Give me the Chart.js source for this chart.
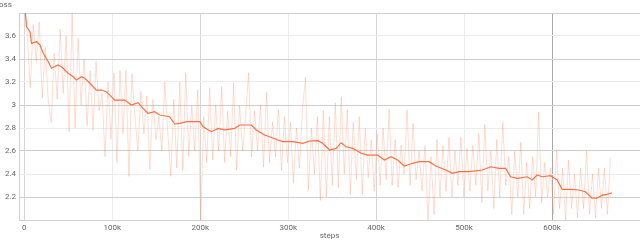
<!DOCTYPE html>
<html>
<head>
<meta charset="utf-8">
<script src="https://cdn.jsdelivr.net/npm/chart.js@4/dist/chart.umd.min.js"></script>
<style>
  html, body { margin: 0; padding: 0; background: #fff; }
  #wrap { width: 640px; height: 241px; position: relative; }
</style>
</head>
<body>
<div id="wrap"><canvas id="lossChart"></canvas></div>
<script>
// smoothed loss curve (step, loss)
const smoothSteps = [0, 1000, 2600, 6500, 8300, 13900, 17800, 21500, 27200, 31000, 38500, 42300, 49900, 55600, 59300, 65000, 68800, 74500, 82000, 87600, 93300, 102800, 114200, 121700, 129300, 134900, 140600, 148200, 153900, 165200, 170900, 176900, 184500, 199500, 203300, 212800, 220300, 227900, 239200, 244900, 258200, 263800, 273200, 278900, 288300, 294000, 305300, 316700, 324300, 333700, 339300, 346900, 354500, 360200, 365900, 373400, 382900, 390400, 401700, 409300, 416900, 424400, 432000, 441400, 449000, 460300, 467900, 479200, 486700, 494300, 505700, 520700, 530300, 539700, 547300, 552900, 560400, 571800, 577400, 583100, 588800, 598300, 605800, 611500, 621000, 630400, 638000, 645500, 651100, 656800, 662500, 668100];
const smoothLoss = [3.92, 3.82, 3.68, 3.637, 3.536, 3.55, 3.522, 3.45, 3.376, 3.319, 3.348, 3.333, 3.276, 3.246, 3.217, 3.246, 3.232, 3.189, 3.13, 3.13, 3.116, 3.043, 3.043, 3.0, 3.02, 2.971, 2.928, 2.942, 2.913, 2.898, 2.835, 2.841, 2.855, 2.855, 2.811, 2.768, 2.797, 2.783, 2.797, 2.826, 2.826, 2.783, 2.739, 2.724, 2.696, 2.681, 2.681, 2.667, 2.687, 2.69, 2.667, 2.609, 2.623, 2.672, 2.637, 2.623, 2.58, 2.565, 2.565, 2.522, 2.55, 2.522, 2.469, 2.493, 2.507, 2.507, 2.469, 2.435, 2.406, 2.42, 2.42, 2.435, 2.463, 2.449, 2.449, 2.376, 2.362, 2.376, 2.348, 2.391, 2.376, 2.385, 2.348, 2.267, 2.267, 2.261, 2.246, 2.189, 2.189, 2.217, 2.223, 2.237];

// raw (unsmoothed) loss, one reading every 3400 steps
const rawInterval = 3400;
const rawLoss = [
  3.95, 3.62, 3.15, 3.7, 3.38, 3.72, 3.06, 3.5, 3.05, 2.85,
  3.45, 3.05, 3.66, 3.1, 3.6, 2.77, 3.8, 2.8, 3.58, 3.0,
  3.4, 2.82, 3.3, 2.78, 3.38, 2.95, 3.1, 2.55, 3.2, 2.7,
  3.28, 2.5, 3.3, 2.75, 3.3, 2.38, 3.27, 2.9, 2.6, 3.12,
  2.75, 3.08, 2.44, 3.05, 2.7, 2.9, 2.6, 3.2, 2.75, 2.38,
  3.05, 2.45, 3.2, 2.43, 3.28, 2.55, 3.0, 2.6, 3.13, 1.98,
  2.9, 2.5, 3.15, 2.52, 3.0, 2.6, 3.16, 2.5, 2.95, 2.55,
  3.19, 2.43, 3.0, 2.6, 2.9, 3.28, 2.55, 2.95, 2.6, 3.0,
  2.46, 3.11, 2.5, 2.85, 2.55, 2.96, 2.43, 2.9, 2.5, 2.85,
  2.32, 2.8, 2.45, 2.95, 3.24, 2.26, 2.8, 2.4, 2.9, 2.17,
  2.95, 2.2, 2.9, 2.3, 3.02, 2.28, 3.07, 2.4, 2.96, 2.22,
  2.85, 2.35, 2.9, 2.22, 2.8, 2.37, 2.7, 2.25, 2.75, 2.3,
  2.8, 2.35, 2.96, 2.3, 2.7, 2.28, 2.65, 2.4, 2.96, 2.3,
  2.84, 2.35, 2.6, 2.25, 2.65, 2.0, 2.55, 2.05, 2.7, 2.2,
  2.65, 2.25, 2.72, 2.2, 2.6, 2.3, 2.72, 2.2, 2.62, 2.25,
  2.65, 2.3, 2.75, 2.15, 2.83, 2.25, 2.6, 2.1, 2.7, 2.2,
  2.85, 2.3, 2.55, 2.05, 2.6, 2.2, 2.68, 2.05, 2.5, 2.1,
  2.55, 2.2, 2.94, 2.15, 2.5, 2.2, 2.45, 2.05, 2.61, 2.1,
  2.45, 2.0, 2.52, 2.1, 2.4, 2.02, 2.45, 2.1, 2.6, 2.05,
  2.4, 2.02, 2.45, 2.1, 2.45, 2.05, 2.54
];

const xTicks = [0, 100000, 200000, 300000, 400000, 500000, 600000];
const yTicks = [2.2, 2.4, 2.6, 2.8, 3, 3.2, 3.4, 3.6];

const rawPoints = rawLoss.map((v, i) => ({ x: i * rawInterval, y: v }));
const smoothPoints = smoothSteps.map((s, i) => ({ x: s, y: smoothLoss[i] }));

// small "loss" label in the top left corner
const cornerTitle = {
  id: 'cornerTitle',
  afterDraw(chart) {
    const ctx = chart.ctx;
    ctx.save();
    ctx.font = '8px Roboto';
    ctx.fillStyle = '#666';
    ctx.textBaseline = 'middle';
    ctx.fillText('loss', -3, 5);
    ctx.restore();
  }
};

const chart = new Chart(document.getElementById('lossChart'), {
  type: 'line',
  data: {
    datasets: [
      {
        label: 'loss (raw)',
        data: rawPoints,
        borderColor: 'rgba(255, 112, 67, 0.24)',
        borderWidth: 1,
        pointRadius: 0,
        tension: 0
      },
      {
        label: 'loss',
        data: smoothPoints,
        borderColor: '#ff6f43',
        borderWidth: 1.2,
        pointRadius: 0,
        tension: 0
      }
    ]
  },
  options: {
    responsive: true,
    maintainAspectRatio: false,
    animation: false,
    layout: { padding: { top: 13, right: 0, left: 0, bottom: 0 } },
    plugins: {
      legend: { display: false },
      tooltip: { enabled: false }
    },
    scales: {
      x: {
        type: 'linear',
        min: -6000,
        max: 700000,
        afterBuildTicks: function(scale) {
          scale.ticks = xTicks.map(v => ({ value: v }));
        },
        afterFit: function(scale) { scale.height = 21; },
        ticks: {
          maxRotation: 0,
          autoSkip: false,
          padding: 3,
          color: '#666',
          font: { family: 'Roboto', size: 8 },
          callback: v => v === 0 ? '0' : (v / 1000) + 'k'
        },
        grid: {
          drawTicks: false,
          color: c => {
            const v = c.tick ? c.tick.value : 0;
            if (v === 600000) return '#a8a8a8';
            return v % 200000 === 0 ? '#d6d6d6' : '#ececec';
          }
        },
        border: { color: '#d0d0d0' },
        title: {
          display: true,
          text: 'steps',
          color: '#666',
          font: { family: 'Roboto', size: 8 },
          padding: { top: 7, bottom: 0 }
        }
      },
      y: {
        min: 2.0,
        max: 3.8,
        afterBuildTicks: function(scale) {
          scale.ticks = [2.0].concat(yTicks, [3.8]).map(v => ({ value: v }));
        },
        afterFit: function(scale) { scale.width = 19; },
        ticks: {
          padding: 3,
          color: '#666',
          font: { family: 'Roboto', size: 8 },
          callback: v => yTicks.some(t => Math.abs(t - v) < 1e-6) ? String(+v.toFixed(1)) : ''
        },
        grid: {
          drawTicks: false,
          color: c => {
            const v = c.tick ? c.tick.value : 0;
            return Math.round(v * 10) % 4 === 2 ? '#cfcfcf' : '#ececec';
          }
        },
        border: { color: '#d0d0d0' }
      }
    }
  },
  plugins: [cornerTitle]
});
</script>
</body>
</html>
